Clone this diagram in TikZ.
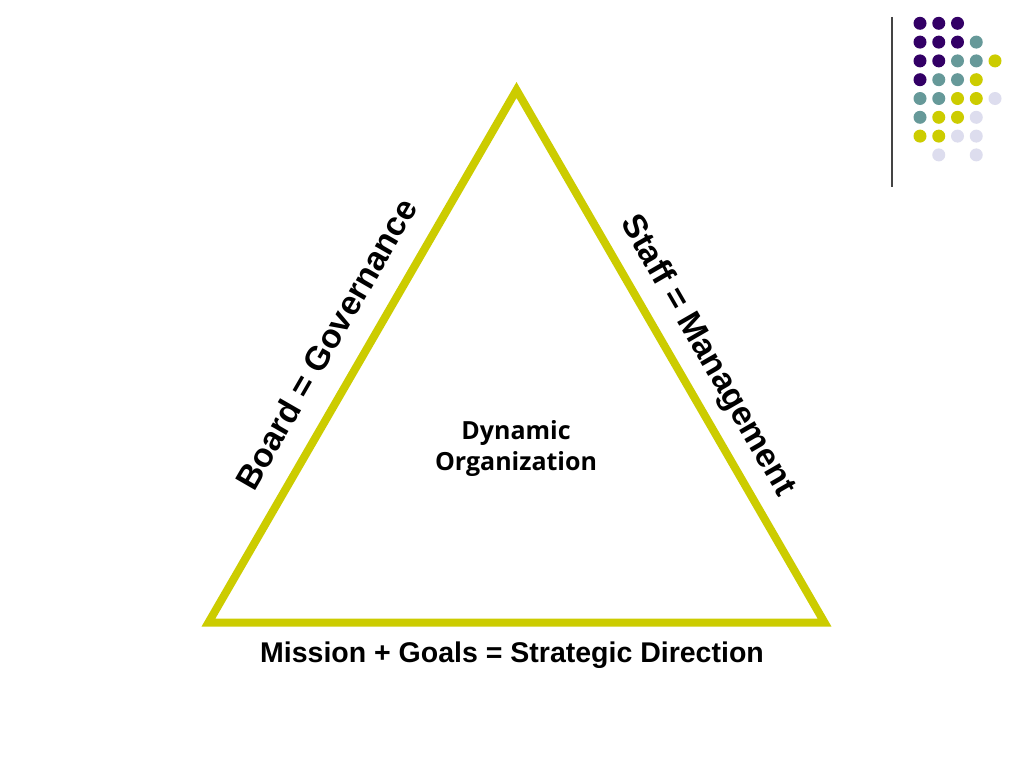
\documentclass[tikz,border=0pt]{standalone}
\usepackage{fontspec}
\setmainfont{Liberation Sans}
\newfontfamily\opensans{Open Sans}
\definecolor{triyellow}{HTML}{CCCC00}
\definecolor{dotpurple}{HTML}{330066}
\definecolor{dotteal}{HTML}{669999}
\definecolor{dotyellow}{HTML}{CCCC00}
\definecolor{dotlav}{HTML}{DDDDEE}
\definecolor{rulegray}{HTML}{444444}
\begin{document}
\begin{tikzpicture}[x=1pt,y=-1pt,
  sidelabel/.style={font=\fontsize{33.5}{40}\selectfont\bfseries, inner sep=0pt},
  baselabel/.style={font=\fontsize{28.5}{34}\selectfont\bfseries, inner sep=0pt},
  centerlabel/.style={font=\opensans\bfseries\fontsize{25}{31}\selectfont, align=center, inner sep=0pt},
  dotP/.style={fill=dotpurple},
  dotT/.style={fill=dotteal},
  dotY/.style={fill=dotyellow},
  dotL/.style={fill=dotlav}]
\useasboundingbox (0,0) rectangle (1024,768);
\fill[white] (0,0) rectangle (1024,768);
% triangle
\coordinate (apex) at (516.5,90);
\coordinate (bl) at (208.5,622.5);
\coordinate (br) at (824.5,622.5);
\draw[triyellow, line width=8pt, line join=miter] (apex) -- (bl) -- (br) -- cycle;
% labels
\node[sidelabel, rotate=60] (board) at (326,344) {Board = Governance};
\node[sidelabel, rotate=-60] (staff) at (707,356) {Staff = Management};
\node[baselabel] (mission) at (512,655) {Mission + Goals = Strategic Direction};
\node[centerlabel] (dyn) at (516,448) {Dynamic\\Organization};
% decoration
\draw[rulegray, line width=1.3pt] (892,17) -- (892,187);
\foreach \r/\row in {0/{P,P,P},1/{P,P,P,T},2/{P,P,T,T,Y},3/{P,T,T,Y},4/{T,T,Y,Y,L},5/{T,Y,Y,L},6/{Y,Y,L,L},7/{N,L,N,L}}{
  \foreach \c [count=\i from 0] in \row {
    \if\c N\else
      \fill[dot\c] ({920+18.75*\i},{23.3+18.8*\r}) circle (6.5);
    \fi
  }
}
\end{tikzpicture}
\end{document}
